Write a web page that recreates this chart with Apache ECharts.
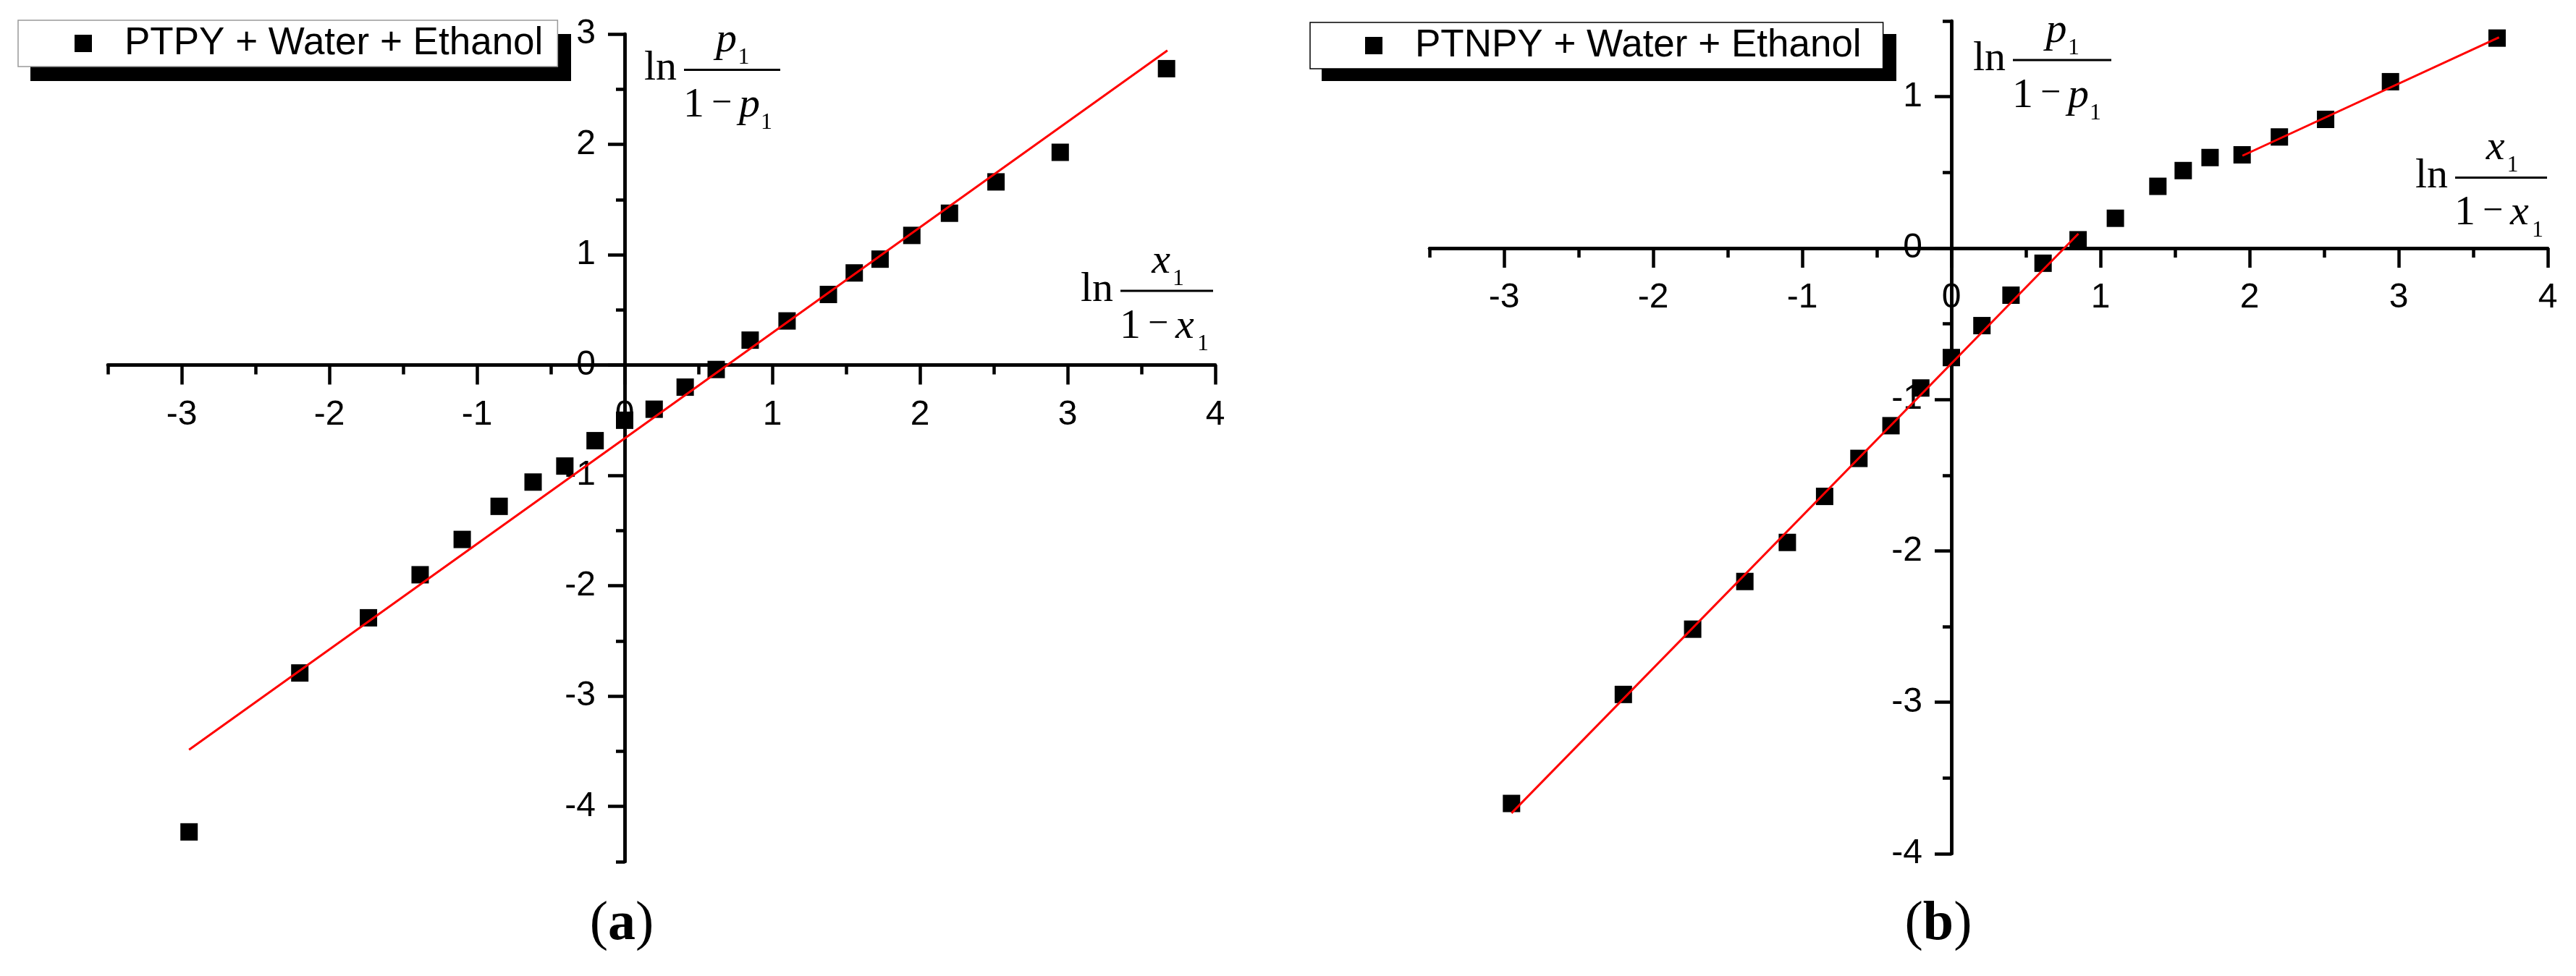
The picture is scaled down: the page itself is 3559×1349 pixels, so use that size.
<!DOCTYPE html>
<html>
<head>
<meta charset="utf-8">
<script src="https://cdn.jsdelivr.net/npm/echarts@6/dist/echarts.min.js"></script>
<style>
  html, body { margin: 0; padding: 0; background: #fff; }
  #main { width: 3559px; height: 1349px; }
</style>
</head>
<body>
<div id="main"></div>
<script>
// data
var xA = [-2.95, -2.20, -1.735, -1.385, -1.10, -0.85, -0.62, -0.405, -0.20, 0.0, 0.20, 0.41, 0.62, 0.85, 1.10, 1.38, 1.555, 1.73, 1.945, 2.20, 2.515, 2.95, 3.67];
var yA = [-4.23, -2.79, -2.29, -1.90, -1.58, -1.28, -1.06, -0.915, -0.685, -0.50, -0.40, -0.20, -0.04, 0.226, 0.40, 0.64, 0.835, 0.96, 1.175, 1.376, 1.66, 1.928, 2.686];
var xB = [-2.95, -2.20, -1.735, -1.385, -1.10, -0.85, -0.62, -0.405, -0.205, 0.0, 0.205, 0.40, 0.615, 0.85, 1.10, 1.385, 1.555, 1.735, 1.95, 2.20, 2.51, 2.945, 3.66];
var yB = [-3.668, -2.948, -2.517, -2.202, -1.944, -1.64, -1.389, -1.173, -0.924, -0.723, -0.512, -0.311, -0.10, 0.055, 0.197, 0.408, 0.512, 0.598, 0.616, 0.734, 0.850, 1.099, 1.387];

// fitted lines (end points)
var fitAx = [-2.95, 3.676], fitAy = [-3.485, 2.851];
var fitB1x = [-2.95, 0.852], fitB1y = [-3.732, 0.095];
var fitB2x = [1.952, 3.673], fitB2y = [0.610, 1.392];

// ticks
var xTicks = [-3, -2, -1, 0, 1, 2, 3, 4];
var xMinor = [-3.5, -2.5, -1.5, -0.5, 0.5, 1.5, 2.5, 3.5];
var yTicksA = [-4, -3, -2, -1, 0, 1, 2, 3];
var yMinorA = [-4.5, -3.5, -2.5, -1.5, -0.5, 0.5, 1.5, 2.5];
var yTicksB = [-4, -3, -2, -1, 0, 1];
var yMinorB = [-3.5, -2.5, -1.5, -0.5, 0.5, 1.5];

var nameA = 'PTPY + Water + Ethanol';
var nameB = 'PTNPY + Water + Ethanol';

var SANS = '"Liberation Sans", Arial, sans-serif';
var SERIF = '"Liberation Serif", "Times New Roman", serif';

var gridA = {left: 149, top: 47, width: 1530, height: 1144};
var gridB = {left: 1975, top: 29, width: 1545, height: 1151};
var rangeXA = [-3.5, 4], rangeYA = [-4.5, 3];
var rangeXB = [-3.5, 4], rangeYB = [-4, 1.5];

function pairs(xs, ys) {
    var out = [];
    for (var i = 0; i < xs.length; i++) out.push([xs[i], ys[i]]);
    return out;
}

// pixels between the grid edge and the zero line of the crossing axis
// (labels of an onZero axis are laid out from the grid edge)
function toZero(len, range) {
    return len * (0 - range[0]) / (range[1] - range[0]);
}

function axis(dim, grid, zeroAt, range, ticks, len, labelShift) {
    return {
        type: 'value', gridIndex: grid, min: range[0], max: range[1], interval: 0.5,
        position: dim == 'x' ? 'bottom' : 'left',
        splitLine: {show: false},
        axisLine: {show: true, onZero: true, onZeroAxisIndex: zeroAt, lineStyle: {color: '#000', width: 4.5}},
        axisTick: {show: true, customValues: ticks, length: len, lineStyle: {color: '#000', width: 4.5}},
        axisLabel: labelShift != null ? {
            show: true, customValues: ticks,
            margin: (dim == 'x' ? 45 : 40) - labelShift,
            showMinLabel: true, showMaxLabel: true,
            fontSize: 48, fontFamily: SANS, color: '#000'
        } : {show: false}
    };
}

// one glyph of the fraction titles, placed by its baseline
function glyph(x, base, s, fs, align, italic) {
    return {
        type: 'text', x: x, y: base - 0.3 * fs,
        style: {
            text: s, fontSize: fs, fontFamily: SERIF, fontStyle: italic ? 'italic' : 'normal',
            fill: '#000', align: align, verticalAlign: 'middle'
        }
    };
}

// ln( v1 / (1 - v1) )
function frac(x0, w, ly, v) {
    return [
        glyph(x0 - 10, ly + 16, 'ln', 58, 'right', false),
        {type: 'line', shape: {x1: x0, y1: ly, x2: x0 + w, y2: ly}, style: {stroke: '#000', lineWidth: 3}},
        glyph(x0 + w / 2 - 8, ly - 23, v, 58, 'center', true),
        glyph(x0 + w / 2 + 8, ly - 7, '1', 32, 'left', false),
        glyph(x0 - 1, ly + 67, '1', 58, 'left', false),
        glyph(x0 + 52, ly + 62, '\u2212', 50, 'center', false),
        glyph(x0 + 76, ly + 67, v, 58, 'left', true),
        glyph(x0 + 106, ly + 83, '1', 32, 'left', false)
    ];
}

function legendBox(name, left, top, padLeft, padRight, border) {
    return {
        data: [name], left: left, top: top, orient: 'horizontal',
        selectedMode: false,
        icon: 'rect', itemWidth: 24, itemHeight: 24,
        padding: [4, padRight, 4, padLeft],
        backgroundColor: '#fff', borderColor: border, borderWidth: 1.5,
        itemStyle: {color: '#000', opacity: 1},
        textStyle: {fontFamily: SANS, fontSize: 53, color: '#000', lineHeight: 56, padding: [0, 0, 0, 40]}
    };
}

var mychart = echarts.init(document.getElementById('main'));

var shiftXA = toZero(gridA.height, rangeYA), shiftYA = toZero(gridA.width, rangeXA);
var shiftXB = toZero(gridB.height, rangeYB), shiftYB = toZero(gridB.width, rangeXB);

var option = {
    backgroundColor: '#fff',
    animation: false,
    grid: [gridA, gridB],
    xAxis: [
        axis('x', 0, 0, rangeXA, xTicks, 27, shiftXA),
        axis('x', 0, 1, rangeXA, xMinor, 13, null),
        axis('x', 1, 2, rangeXB, xTicks, 27, shiftXB),
        axis('x', 1, 3, rangeXB, xMinor, 13, null)
    ],
    yAxis: [
        axis('y', 0, 0, rangeYA, yTicksA, 23, shiftYA),
        axis('y', 0, 1, rangeYA, yMinorA, 12, null),
        axis('y', 1, 2, rangeYB, yTicksB, 23, shiftYB),
        axis('y', 1, 3, rangeYB, yMinorB, 12, null)
    ],
    legend: [
        legendBox(nameA, 25, 28, 78, 20, '#999'),
        legendBox(nameB, 1810, 31, 76, 30, '#000')
    ],
    series: [
        {
            name: nameA, type: 'scatter', xAxisIndex: 0, yAxisIndex: 0,
            symbol: 'rect', symbolSize: 24, itemStyle: {color: '#000', opacity: 1},
            data: pairs(xA, yA), z: 2
        },
        {
            name: 'fitA', type: 'line', xAxisIndex: 0, yAxisIndex: 0,
            showSymbol: false, lineStyle: {color: '#ff0000', width: 3},
            data: pairs(fitAx, fitAy), z: 3
        },
        {
            name: nameB, type: 'scatter', xAxisIndex: 2, yAxisIndex: 2,
            symbol: 'rect', symbolSize: 24, itemStyle: {color: '#000', opacity: 1},
            data: pairs(xB, yB), z: 2
        },
        {
            name: 'fitB1', type: 'line', xAxisIndex: 2, yAxisIndex: 2,
            showSymbol: false, lineStyle: {color: '#ff0000', width: 3},
            data: pairs(fitB1x, fitB1y), z: 3
        },
        {
            name: 'fitB2', type: 'line', xAxisIndex: 2, yAxisIndex: 2,
            showSymbol: false, lineStyle: {color: '#ff0000', width: 3},
            data: pairs(fitB2x, fitB2y), z: 3
        }
    ],
    graphic: [].concat(
        // legend drop shadows
        [
            {type: 'rect', z: 0, shape: {x: 42, y: 47, width: 747, height: 65}, style: {fill: '#000'}},
            {type: 'rect', z: 0, shape: {x: 1826, y: 47, width: 794, height: 65}, style: {fill: '#000'}}
        ],
        frac(945, 133, 96.5, 'p'),
        frac(1548, 128, 402, 'x'),
        frac(2781, 136, 83, 'p'),
        frac(3392, 127, 245.6, 'x'),
        [
            {
                type: 'text', x: 859, y: 1278,
                style: {
                    text: '({b|a})', fontSize: 76, fontFamily: SERIF, fill: '#000',
                    align: 'center', verticalAlign: 'middle',
                    rich: {b: {fontSize: 76, fontFamily: SERIF, fontWeight: 'bold'}}
                }
            },
            {
                type: 'text', x: 2678, y: 1278,
                style: {
                    text: '({b|b})', fontSize: 76, fontFamily: SERIF, fill: '#000',
                    align: 'center', verticalAlign: 'middle',
                    rich: {b: {fontSize: 76, fontFamily: SERIF, fontWeight: 'bold'}}
                }
            }
        ]
    )
};

mychart.setOption(option);
</script>
</body>
</html>
